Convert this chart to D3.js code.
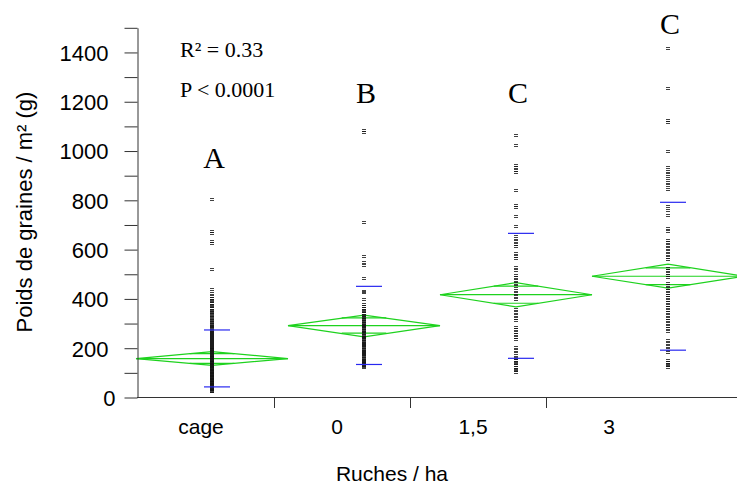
<!DOCTYPE html>
<html>
<head>
<meta charset="utf-8">
<script src="https://cdn.jsdelivr.net/npm/d3@7"></script>
<style>
  html, body { margin: 0; padding: 0; background: #fff; }
  svg { display: block; }
</style>
</head>
<body>
<svg id="chart" width="737" height="488"></svg>
<script>
// Groups (hive density) and their significance letters
const groups = ["cage", "0", "1,5", "3"];
const letters = ["A", "B", "C", "C"];
const letterLevels = [930, 1195, 1195, 1475];

// Individual seed weights per plot (g / m²)
const cageValues = [805, 676, 668, 633, 627, 523, 441, 423, 410, 404, 397, 390, 384, 377, 371, 364, 357, 351, 345, 339,
  333, 327, 321, 316, 310, 305, 300, 295, 290, 285, 280, 275, 271, 266, 262, 257, 253, 249, 245, 241, 237, 233, 229,
  225, 221, 217, 213, 210, 206, 202, 198, 195, 191, 187, 184, 180, 177, 173, 170, 166, 163, 160, 156, 153, 150, 146,
  143, 140, 137, 133, 130, 127, 124, 121, 118, 115, 112, 109, 106, 103, 100, 97, 94, 91, 88, 85, 82, 79, 76, 73, 70,
  67, 64, 61, 58, 55, 52, 49, 46, 43, 40, 37, 34, 31, 28, 25];
const zeroValues = [1085, 1076, 712, 573, 549, 538, 486, 432, 427, 398, 378, 370, 362, 355, 349, 343, 336, 330, 325,
  319, 314, 309, 304, 299, 294, 289, 285, 280, 275, 270, 265, 260, 255, 250, 246, 241, 236, 231, 226, 221, 217, 212,
  207, 203, 198, 193, 189, 185, 180, 176, 171, 167, 162, 158, 154, 150, 146, 142, 138, 134, 130, 126, 122];
const oneHalfValues = [1066, 1026, 945, 935, 924, 914, 840, 782, 771, 738, 697, 662, 648, 636, 624, 614, 587, 576, 567,
  531, 519, 498, 487, 475, 463, 451, 438, 425, 412, 398, 358, 347, 336, 324, 316, 288, 277, 266, 256, 245, 236, 203,
  192, 182, 166, 159, 152, 145, 138, 131, 124, 117, 110, 105];
const threeValues = [1418, 1256, 1125, 1116, 999, 936, 920, 905, 891, 876, 861, 846, 776, 760, 742, 689, 676, 641, 631,
  620, 608, 596, 584, 572, 560, 527, 517, 507, 497, 487, 466, 456, 446, 436, 426, 416, 406, 396, 386, 376, 366, 357,
  345, 335, 324, 313, 302, 291, 280, 269, 235, 222, 209, 196, 183, 154, 145, 137, 130, 122];

// Group summaries: means, 95% confidence limits, mean ± one standard deviation
const means = [158, 292, 417, 492];
const ciLower = [130, 246, 368, 444];
const ciUpper = [186, 334, 466, 541];
const sdLower = [43, 134, 159, 192];
const sdUpper = [274, 451, 666, 792];

// Axis ticks and texts
const yTickValues = d3.range(0, 1501, 100);
const yLabelStep = 200;
const statLines = ["R\u00B2 = 0.33", "P < 0.0001"];
const xTitle = "Ruches / ha";
const yTitle = "Poids de graines / m\u00B2 (g)";

const seriesValues = [cageValues, zeroValues, oneHalfValues, threeValues];

const svg = d3.select("#chart");
const SANS = "'Liberation Sans', Arial, Helvetica, sans-serif";
const SERIF = "'Liberation Serif', 'Times New Roman', serif";
const GREEN = "#1ed21e";
const BLUE = "#2828f0";

const y = d3.scaleLinear().domain([0, 1500]).range([397.5, 27.8]);
// category bands used by the axis labels
const xAxisScale = d3.scaleBand().domain(groups).range([138, 682]).padding(0);
// category bands used by the data marks and diamonds
const xData = d3.scaleBand().domain(groups).range([136, 744]).padding(0);

// ----- means diamonds -----
const diamonds = svg.append("g").attr("fill", "none").attr("stroke", GREEN).attr("stroke-width", 1.2);
groups.forEach((g, i) => {
  const left = xData(g), right = xData(g) + xData.bandwidth();
  const cx = left + xData.bandwidth() / 2;
  const hw = xData.bandwidth() / 2;
  diamonds.append("path")
    .attr("d", `M${left},${y(means[i])}L${cx},${y(ciUpper[i])}L${right},${y(means[i])}L${cx},${y(ciLower[i])}Z`);
  diamonds.append("line")
    .attr("x1", left).attr("x2", right)
    .attr("y1", y(means[i])).attr("y2", y(means[i]));
  // overlap marks
  const k = 1 / Math.SQRT2;
  const half = (ciUpper[i] - ciLower[i]) / 2;
  const inset = hw * (1 - k);
  [means[i] + half * k, means[i] - half * k].forEach(v => {
    diamonds.append("line")
      .attr("x1", cx - inset).attr("x2", cx + inset)
      .attr("y1", y(v)).attr("y2", y(v));
  });
});

// ----- individual points -----
const pts = svg.append("g").attr("stroke", "#111").attr("stroke-width", 0.8).attr("fill", "none");
groups.forEach((g, i) => {
  const cx = xData(g) + xData.bandwidth() / 2;
  pts.selectAll(null)
    .data(seriesValues[i])
    .enter().append("path")
    .attr("d", v => {
      const yy = Math.round(y(v)) + 0.5;
      return `M${cx - 2},${yy - 1}h4M${cx - 2},${yy + 1}h4`;
    });
});

// ----- standard deviation lines -----
const sd = svg.append("g").attr("stroke", BLUE).attr("stroke-width", 1.2);
groups.forEach((g, i) => {
  const cx = xData(g) + xData.bandwidth() / 2;
  [sdLower[i], sdUpper[i]].forEach(v => {
    sd.append("line")
      .attr("x1", cx - 8).attr("x2", cx + 18)
      .attr("y1", y(v)).attr("y2", y(v));
  });
});

// ----- y axis -----
const yAxis = d3.axisLeft(y)
  .tickValues(yTickValues)
  .tickSize(13)
  .tickSizeOuter(0)
  .tickPadding(16)
  .tickFormat(d => d % yLabelStep === 0 ? String(d) : "");
const yg = svg.append("g").attr("transform", "translate(137.5,0)").call(yAxis);
yg.select(".domain").attr("stroke", "#333");
yg.selectAll(".tick line").attr("stroke", "#333");
yg.selectAll(".tick text")
  .attr("font-family", SANS).attr("font-size", 22).attr("fill", "#000")
  .attr("dy", "0.36em")
  .attr("dx", d => d === 0 ? 7 : 0);

// ----- x axis -----
const xg = svg.append("g");
xg.append("line")
  .attr("x1", 137).attr("x2", 737)
  .attr("y1", 397.5).attr("y2", 397.5)
  .attr("stroke", "#333");
groups.slice(1).forEach(g => {
  const bx = Math.round(xAxisScale(g)) + 0.5;
  xg.append("line")
    .attr("x1", bx).attr("x2", bx)
    .attr("y1", 397.5).attr("y2", 408)
    .attr("stroke", "#333");
});
xg.selectAll("text.xlab")
  .data(groups)
  .enter().append("text")
  .attr("class", "xlab")
  .attr("x", d => xAxisScale(d) + xAxisScale.bandwidth() / 2 - 5)
  .attr("y", 434)
  .attr("text-anchor", "middle")
  .attr("font-family", SANS).attr("font-size", 21)
  .text(d => d);

// ----- titles -----
svg.append("text")
  .attr("x", 392).attr("y", 481)
  .attr("text-anchor", "middle")
  .attr("font-family", SANS).attr("font-size", 21)
  .text(xTitle);
svg.append("text")
  .attr("transform", "translate(32,212) rotate(-90)")
  .attr("text-anchor", "middle")
  .attr("font-family", SANS).attr("font-size", 22)
  .text(yTitle);

// ----- statistics -----
svg.selectAll("text.stat")
  .data(statLines)
  .enter().append("text")
  .attr("class", "stat")
  .attr("x", 180)
  .attr("y", (d, i) => 57 + i * 40)
  .attr("font-family", SERIF).attr("font-size", 22)
  .text(d => d);

// ----- significance letters -----
svg.selectAll("text.letter")
  .data(letters)
  .enter().append("text")
  .attr("class", "letter")
  .attr("x", (d, i) => xData(groups[i]) + xData.bandwidth() / 2 + 2)
  .attr("y", (d, i) => y(letterLevels[i]))
  .attr("text-anchor", "middle")
  .attr("font-family", SERIF).attr("font-size", 30)
  .text(d => d);
</script>
</body>
</html>
